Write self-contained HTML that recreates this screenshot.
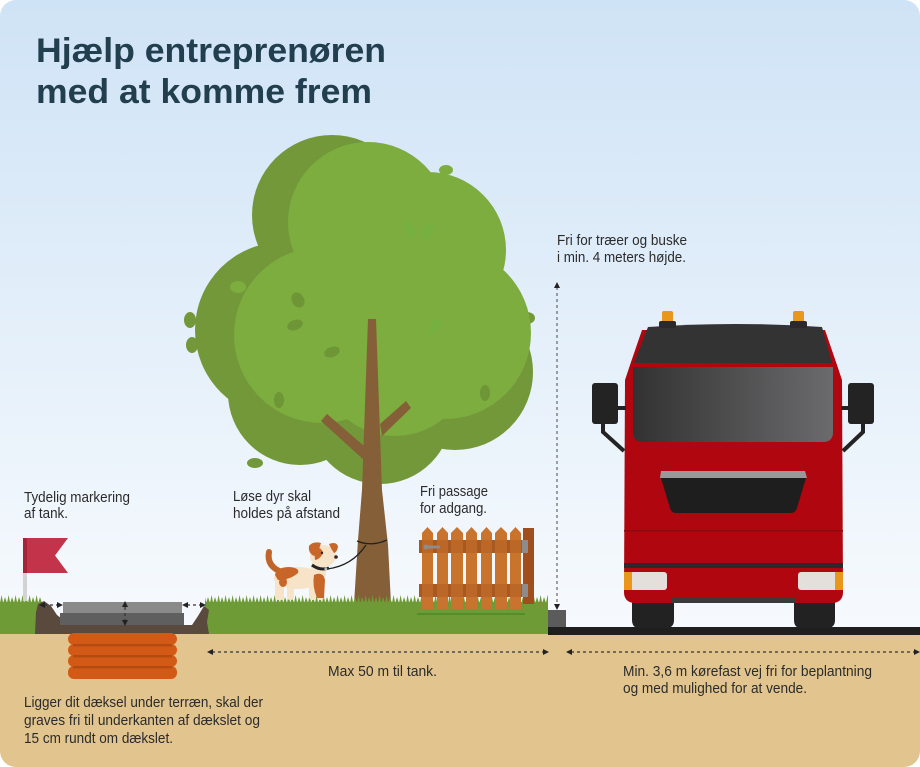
<!DOCTYPE html>
<html><head><meta charset="utf-8">
<style>
html,body{margin:0;padding:0;background:#fff;}
svg{display:block;}
text{font-family:"Liberation Sans",sans-serif;}
</style></head>
<body>
<svg width="920" height="767" viewBox="0 0 920 767" xmlns="http://www.w3.org/2000/svg">
<defs>
  <clipPath id="clip"><rect x="0" y="0" width="920" height="767" rx="16" ry="16"/></clipPath>
  <linearGradient id="sky" x1="0" y1="0" x2="0" y2="1">
    <stop offset="0" stop-color="#cfe3f6"/>
    <stop offset="0.78" stop-color="#f5f9fd"/>
    <stop offset="1" stop-color="#f8fafd"/>
  </linearGradient>
  <linearGradient id="glass" x1="0" y1="0" x2="1" y2="0">
    <stop offset="0" stop-color="#323232"/>
    <stop offset="1" stop-color="#6b6b6d"/>
  </linearGradient>
  <pattern id="grass" x="0" y="594" width="7" height="9" patternUnits="userSpaceOnUse">
    <path d="M0,9 L1.6,1 L3.2,9 L5,3 L7,9 Z" fill="#6e9b35"/>
  </pattern>
</defs>
<g clip-path="url(#clip)">
  <rect x="0" y="0" width="920" height="767" fill="url(#sky)"/>

  <!-- title -->
  <text x="36" y="62" font-size="34" font-weight="bold" fill="#213f4e" textLength="350" lengthAdjust="spacingAndGlyphs">Hjælp entreprenøren</text>
  <text x="36" y="103" font-size="34" font-weight="bold" fill="#213f4e" textLength="336" lengthAdjust="spacingAndGlyphs">med at komme frem</text>

  <!-- tree foliage -->
  <g fill="#72983a">
    <circle cx="332" cy="215" r="80"/>
    <circle cx="283" cy="330" r="88"/>
    <circle cx="300" cy="393" r="72"/>
    <circle cx="380" cy="412" r="72"/>
    <circle cx="455" cy="372" r="78"/>
    <circle cx="428" cy="250" r="76"/>
    <circle cx="440" cy="320" r="80"/>
    <ellipse cx="190" cy="320" rx="6" ry="8"/>
    <ellipse cx="192" cy="345" rx="6" ry="8"/>
    <ellipse cx="255" cy="463" rx="8" ry="5"/>
    <ellipse cx="515" cy="300" rx="6" ry="8"/>
    <ellipse cx="527" cy="318" rx="8" ry="6"/>
  </g>
  <g fill="#7cad3e">
    <circle cx="368" cy="222" r="80"/>
    <circle cx="428" cy="250" r="78"/>
    <circle cx="322" cy="335" r="88"/>
    <circle cx="445" cy="333" r="86"/>
    <circle cx="395" cy="360" r="76"/>
    <ellipse cx="446" cy="170" rx="7" ry="5"/>
    <ellipse cx="238" cy="287" rx="8" ry="6"/>
  </g>
  <g fill="#6e9536">
    <ellipse cx="298" cy="300" rx="6" ry="8" transform="rotate(-30 298 300)"/>
    <ellipse cx="295" cy="325" rx="8" ry="5" transform="rotate(-20 295 325)"/>
    <ellipse cx="332" cy="352" rx="8" ry="5" transform="rotate(-20 332 352)"/>
    <ellipse cx="279" cy="400" rx="5" ry="8"/>
    <ellipse cx="485" cy="393" rx="5" ry="8"/>
  </g>
  <g fill="#76b040">
    <ellipse cx="410" cy="230" rx="5" ry="9" transform="rotate(-30 410 230)"/>
    <ellipse cx="428" cy="232" rx="5" ry="9" transform="rotate(30 428 232)"/>
    <ellipse cx="435" cy="327" rx="5" ry="9" transform="rotate(30 435 327)"/>
  </g>

  <!-- trunk -->
  <g fill="#845f37">
    <path d="M368,319 L376,319 L382,490 L388,545 L391,604 L354,604 L358,540 L362,490 Z"/>
    <path d="M321,421 L327,414 L364,446 L364,460 Z"/>
    <path d="M406,401 L411,408 L382,436 L380,424 Z"/>
  </g>

  <!-- ground -->
  <rect x="0" y="633" width="920" height="134" fill="#e2c58e"/>

  <!-- grass -->
  <rect x="0" y="594" width="42" height="9" fill="url(#grass)"/>
  <rect x="0" y="602" width="42" height="32" fill="#6e9b35"/>
  <rect x="205" y="594" width="343" height="9" fill="url(#grass)"/>
  <rect x="205" y="602" width="343" height="32" fill="#6e9b35"/>

  <!-- road -->
  <rect x="548" y="627" width="372" height="8" fill="#1f1f1f"/>
  <rect x="548" y="610" width="18" height="17" fill="#5b5b5b"/>

  <!-- tank -->
  <path d="M35,634 L36,612 L38,604 L44,601 L51,606 L57,615 L70,625 L192,625 L198,616 L204,606 L209,610 L207,622 L209,634 Z" fill="#5a4a3e"/>
  <rect x="63" y="602" width="119" height="11" fill="#8a8a8a"/>
  <rect x="60" y="613" width="124" height="12" fill="#5f5f5f"/>
  <!-- pipe -->
  <g fill="#d35a16">
    <rect x="68" y="633" width="109" height="12" rx="6"/>
    <rect x="68" y="644" width="109" height="12" rx="6"/>
    <rect x="68" y="655" width="109" height="12" rx="6"/>
    <rect x="68" y="666" width="109" height="13" rx="6"/>
  </g>
  <g fill="#b44c12">
    <rect x="73" y="644" width="99" height="2.5"/>
    <rect x="73" y="655" width="99" height="2.5"/>
    <rect x="73" y="666" width="99" height="2.5"/>
  </g>

  <!-- flag -->
  <rect x="23" y="538" width="4" height="63" fill="#d3d3d3"/>
  <path d="M23,538 L68,538 L55,555.5 L68,573 L23,573 Z" fill="#c3334a"/>
  <rect x="23" y="538" width="4" height="35" fill="#a52438"/>

  <!-- dashed arrows -->
  <g stroke="#333" stroke-width="1.2" stroke-dasharray="3,3" fill="none">
    <line x1="44" y1="605" x2="58" y2="605"/>
    <line x1="187" y1="605" x2="201" y2="605"/>
    <line x1="125" y1="607" x2="125" y2="620"/>
    <line x1="212" y1="652" x2="543" y2="652"/>
    <line x1="571" y1="652" x2="915" y2="652"/>
  </g>
  <g stroke="#666" stroke-width="1.2" stroke-dasharray="3,3" fill="none">
    <line x1="557" y1="287" x2="557" y2="605"/>
  </g>
  <g fill="#222">
    <path d="M39,605 L45,602 L45,608 Z"/>
    <path d="M63,605 L57,602 L57,608 Z"/>
    <path d="M182,605 L188,602 L188,608 Z"/>
    <path d="M206,605 L200,602 L200,608 Z"/>
    <path d="M125,601 L122,607 L128,607 Z"/>
    <path d="M125,626 L122,620 L128,620 Z"/>
    <path d="M207,652 L213,649 L213,655 Z"/>
    <path d="M549,652 L543,649 L543,655 Z"/>
    <path d="M566,652 L572,649 L572,655 Z"/>
    <path d="M920,652 L914,649 L914,655 Z"/>
    <path d="M557,282 L554,288 L560,288 Z"/>
    <path d="M557,610 L554,604 L560,604 Z"/>
  </g>

  <!-- fence -->
  <rect x="417" y="613" width="108" height="2" fill="#5a8a2a"/>
  <g fill="#c8742e">
    <path d="M422,533 L427.5,527 L433,533 L433,609 L422,609 Z"/>
    <path d="M437,533 L442.5,527 L448,533 L448,609 L437,609 Z"/>
    <path d="M451,533 L457,527 L463,533 L463,609 L451,609 Z"/>
    <path d="M466,533 L471.5,527 L477,533 L477,609 L466,609 Z"/>
    <path d="M481,533 L486.5,527 L492,533 L492,609 L481,609 Z"/>
    <path d="M495,533 L501,527 L507,533 L507,609 L495,609 Z"/>
    <path d="M510,533 L515.5,527 L521,533 L521,609 L510,609 Z"/>
  </g>
  <g fill="#a9581f">
    <rect x="419" y="540" width="104" height="13"/>
    <rect x="419" y="584" width="104" height="13"/>
  </g>
  <g fill="#c8742e">
    <rect x="422" y="540" width="11" height="57" opacity="0.55"/>
    <rect x="437" y="540" width="11" height="57" opacity="0.55"/>
    <rect x="451" y="540" width="12" height="57" opacity="0.55"/>
    <rect x="466" y="540" width="11" height="57" opacity="0.55"/>
    <rect x="481" y="540" width="11" height="57" opacity="0.55"/>
    <rect x="495" y="540" width="12" height="57" opacity="0.55"/>
    <rect x="510" y="540" width="11" height="57" opacity="0.55"/>
  </g>
  <rect x="523" y="528" width="11" height="76" fill="#a04e1e"/>
  <rect x="522" y="540" width="6" height="13" fill="#8c8c8c"/>
  <rect x="522" y="584" width="6" height="13" fill="#8c8c8c"/>
  <rect x="424" y="545.5" width="16" height="3" rx="1.5" fill="#8c8c8c"/>
  <circle cx="426" cy="547" r="2.5" fill="#8c8c8c"/>

  <!-- dog -->
  <path d="M269,552 Q266,567 284,573" stroke="#c0652a" stroke-width="6" fill="none" stroke-linecap="round"/>
  <g fill="#f7e3c8">
    <ellipse cx="298" cy="578" rx="24" ry="11"/>
    <rect x="275" y="580" width="9" height="20" rx="3"/>
    <rect x="287" y="582" width="7" height="18" rx="3"/>
    <rect x="309" y="582" width="7" height="18" rx="3"/>
    <rect x="317" y="580" width="7" height="20" rx="3"/>
    <ellipse cx="323" cy="556" rx="13" ry="11"/>
    <rect x="311" y="561" width="15" height="18" rx="5"/>
  </g>
  <g fill="#c8662a">
    <path d="M275,575 Q276,567 290,567 Q300,568 298,573 Q290,580 278,580 Z"/>
    <ellipse cx="283" cy="582" rx="4" ry="5"/>
    <path d="M314,575 Q323,571 325,580 L324,598 L317,598 Q312,586 314,575 Z"/>
    <path d="M309,546 Q313,541 321,543 Q319,551 314,556 Q308,553 309,546 Z"/>
    <path d="M329,544 Q337,541 338,547 Q337,552 334,553 Q331,549 329,544 Z"/>
    <path d="M314,548 Q320,546 323,552 Q321,559 315,560 Z"/>
  </g>
  <circle cx="336" cy="557" r="1.8" fill="#3a2418"/>
  <circle cx="322" cy="553" r="1.2" fill="#3a2418"/>
  <path d="M312,565 Q320,571 329,568" stroke="#222" stroke-width="3" fill="none"/>
  <circle cx="326" cy="569" r="1.6" fill="#bbb"/>
  <path d="M327,569 Q352,566 366,545" stroke="#222" stroke-width="1.3" fill="none"/>
  <path d="M357,541 Q371,547 387,540" stroke="#222" stroke-width="1.3" fill="none"/>

  <!-- truck -->
  <path d="M632,600 h42 v20 q0,8 -8,8 h-27 q-7,0 -7,-8 Z" fill="#222"/>
  <path d="M794,600 h41 v20 q0,8 -8,8 h-26 q-7,0 -7,-8 Z" fill="#222"/>
  <path d="M642,330 L825,330 L837,365 L842,380 L843,592 Q843,602 833,603 L634,603 Q624,602 624,592 L625,380 L630,365 Z" fill="#b0060f"/>
  <rect x="672" y="598" width="124" height="5" fill="#3a3a3a"/>
  <path d="M648,327 Q735,321 822,327 L832,363 L634,363 Z" fill="#333"/>
  <path d="M633,367 H833 V432 Q833,442 823,442 H643 Q633,442 633,432 Z" fill="url(#glass)"/>
  <path d="M661,471 L805,471 L807,478 L660,478 Z" fill="#999"/>
  <path d="M661,478 L806,478 L797,508 Q796,513 790,513 L677,513 Q671,513 670,508 Z" fill="#1e1e1e"/>
  <rect x="624" y="530" width="219" height="1.5" fill="#8a0a10"/>
  <rect x="624" y="563" width="219" height="5" fill="#2a2a2a"/>
  <rect x="624" y="572" width="43" height="18" rx="3" fill="#e4dfdb"/>
  <rect x="624" y="572" width="8" height="18" fill="#e8961c"/>
  <rect x="798" y="572" width="45" height="18" rx="3" fill="#e4dfdb"/>
  <rect x="835" y="572" width="8" height="18" fill="#e8961c"/>
  <!-- beacons -->
  <rect x="662" y="311" width="11" height="12" rx="2" fill="#e8961c"/>
  <rect x="659" y="321" width="17" height="7" rx="2" fill="#2a2a2a"/>
  <rect x="793" y="311" width="11" height="12" rx="2" fill="#e8961c"/>
  <rect x="790" y="321" width="17" height="7" rx="2" fill="#2a2a2a"/>
  <!-- mirrors -->
  <g fill="#232323">
    <rect x="592" y="383" width="26" height="41" rx="3"/>
    <rect x="617" y="406" width="9" height="4"/>
    <rect x="848" y="383" width="26" height="41" rx="3"/>
    <rect x="841" y="406" width="9" height="4"/>
  </g>
  <polyline points="603,423 603,432 624,451" stroke="#232323" stroke-width="4" fill="none"/>
  <polyline points="863,423 863,432 843,451" stroke="#232323" stroke-width="4" fill="none"/>

  <!-- labels -->
  <g fill="#2b2b2b" font-size="15">
    <text x="24" y="502" textLength="106" lengthAdjust="spacingAndGlyphs">Tydelig markering</text>
    <text x="24" y="518" textLength="44" lengthAdjust="spacingAndGlyphs">af tank.</text>
    <text x="233" y="501" textLength="78" lengthAdjust="spacingAndGlyphs">Løse dyr skal</text>
    <text x="233" y="518" textLength="107" lengthAdjust="spacingAndGlyphs">holdes på afstand</text>
    <text x="420" y="496" textLength="68" lengthAdjust="spacingAndGlyphs">Fri passage</text>
    <text x="420" y="513" textLength="67" lengthAdjust="spacingAndGlyphs">for adgang.</text>
    <text x="557" y="245" textLength="130" lengthAdjust="spacingAndGlyphs">Fri for træer og buske</text>
    <text x="557" y="262" textLength="129" lengthAdjust="spacingAndGlyphs">i min. 4 meters højde.</text>
    <text x="328" y="676" textLength="109" lengthAdjust="spacingAndGlyphs">Max 50 m til tank.</text>
    <text x="623" y="676" textLength="249" lengthAdjust="spacingAndGlyphs">Min. 3,6 m kørefast vej fri for beplantning</text>
    <text x="623" y="693" textLength="184" lengthAdjust="spacingAndGlyphs">og med mulighed for at vende.</text>
    <text x="24" y="707" textLength="239" lengthAdjust="spacingAndGlyphs">Ligger dit dæksel under terræn, skal der</text>
    <text x="24" y="725" textLength="236" lengthAdjust="spacingAndGlyphs">graves fri til underkanten af dækslet og</text>
    <text x="24" y="743" textLength="149" lengthAdjust="spacingAndGlyphs">15 cm rundt om dækslet.</text>
  </g>
</g>
</svg>
</body></html>
